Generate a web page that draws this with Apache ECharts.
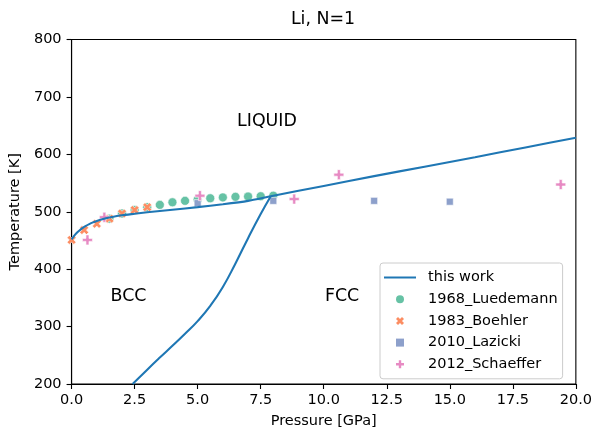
<!DOCTYPE html>
<html>
<head>
<meta charset="utf-8">
<script src="https://cdn.jsdelivr.net/npm/echarts@6.0.0/dist/echarts.min.js"></script>
<style>
  html, body { margin: 0; padding: 0; background: #fff; }
  #chartBox { width: 595px; height: 434px; }
</style>
</head>
<body>
<div id="chartBox"></div>
<script>
// melting line (bcc/fcc - liquid), pressure in GPa, temperature in K
var meltP = [0, 0.1, 0.2, 0.3, 0.4, 0.55, 0.7, 0.85, 1.0, 1.25, 1.5, 2, 2.5, 3, 4, 5, 6, 7, 7.9, 10, 12, 14, 16, 18, 20];
var meltT = [452, 458, 463, 467, 470.5, 475, 478.5, 481.5, 484, 487.5, 490, 494, 496.5, 499, 503.5, 508, 513, 519, 527, 545, 562, 578.5, 595, 612, 629];
// bcc - fcc boundary
var bfP = [2.42, 3.0, 3.5, 4.0, 4.5, 5.0, 5.5, 6.0, 6.5, 7.0, 7.5, 7.9];
var bfT = [200, 225, 246, 266.5, 287.5, 309.5, 336, 369, 410, 454, 496, 527];

var luedP = [1.5, 2.0, 2.5, 3.0, 3.5, 4.0, 4.5, 5.0, 5.5, 6.0, 6.5, 7.0, 7.5, 8.0];
var luedT = [488, 497, 503, 508, 512, 516.5, 519, 521, 523.5, 525, 526, 526.5, 527, 528];
var boehP = [0.0, 0.5, 1.0, 1.5, 2.0, 2.5, 3.0];
var boehT = [451, 468, 479, 488, 497, 503, 508];
var lazP = [5.0, 8.0, 12.0, 15.0];
var lazT = [515, 519, 519, 517.5];
var schP = [0.63, 1.3, 5.09, 8.83, 10.6, 19.4];
var schT = [451, 490.5, 528, 522, 564.6, 547.4];

var phaseNames = ['LIQUID', 'BCC', 'FCC'];
var phaseP = [7.75, 2.26, 10.73];
var phaseT = [657, 352, 352];

var legendNames = ['this work', '1968_Luedemann', '1983_Boehler', '2010_Lazicki', '2012_Schaeffer'];

function pairs(xs, ys) {
    return xs.map(function (x, i) { return [x, ys[i]]; });
}

var FONT = 'DejaVu Sans';
var xMarker = 'path://M2.5,0 L5,2.5 L7.5,0 L10,2.5 L7.5,5 L10,7.5 L7.5,10 L5,7.5 L2.5,10 L0,7.5 L2.5,5 L0,2.5 Z';
var plusMarker = 'path://M3.5,0 H6.5 V3.5 H10 V6.5 H6.5 V10 H3.5 V6.5 H0 V3.5 H3.5 Z';
var squareMarker = 'path://M0,0 H10 V10 H0 Z';
var lineIcon = 'path://M0,0 H32 V2 H0 Z';
var legendIcons = [lineIcon, 'circle', xMarker, squareMarker, plusMarker];

var myChart = echarts.init(document.getElementById('chartBox'));

var option = {
    animation: false,
    backgroundColor: '#fff',
    title: {
        text: 'Li, N=1',
        left: 323,
        textAlign: 'center',
        top: 11,
        padding: 0,
        textStyle: { fontFamily: FONT, fontSize: 17.4, fontWeight: 'normal', color: '#000' }
    },
    grid: {
        left: 70,
        right: 19,
        top: 39.5,
        bottom: 46.5,
        show: true,
        borderColor: '#000',
        borderWidth: 1.1,
        backgroundColor: 'transparent'
    },
    legend: {
        data: legendNames.map(function (n, i) { return { name: n, icon: legendIcons[i] }; }),
        orient: 'vertical',
        left: 380,
        top: 263,
        itemWidth: 32,
        itemHeight: 8,
        itemGap: 6.7,
        padding: [7, 5, 7, 4],
        selectedMode: false,
        symbolKeepAspect: true,
        itemStyle: { borderWidth: 0 },
        backgroundColor: 'rgba(255,255,255,0.8)',
        borderColor: '#cccccc',
        borderWidth: 1,
        borderRadius: 3,
        textStyle: { fontFamily: FONT, fontSize: 14.5, color: '#000', padding: [0, 0, 0, 7] }
    },
    xAxis: {
        type: 'value',
        min: 0,
        max: 20,
        interval: 2.5,
        name: 'Pressure [GPa]',
        nameLocation: 'middle',
        nameGap: 30,
        nameTextStyle: { fontFamily: FONT, fontSize: 14.5, color: '#000' },
        axisLine: { show: true, lineStyle: { color: '#000', width: 1.1 } },
        axisTick: { show: true, length: 5, lineStyle: { color: '#000', width: 1.1 } },
        axisLabel: {
            margin: 9,
            fontFamily: FONT,
            fontSize: 14.5,
            color: '#000',
            formatter: function (v) { return v.toFixed(1); }
        },
        splitLine: { show: false }
    },
    yAxis: {
        type: 'value',
        min: 200,
        max: 800,
        interval: 100,
        name: 'Temperature [K]',
        nameLocation: 'middle',
        nameGap: 44,
        nameTextStyle: { fontFamily: FONT, fontSize: 14.5, color: '#000' },
        axisLine: { show: true, lineStyle: { color: '#000', width: 1.1 } },
        axisTick: { show: true, length: 5, lineStyle: { color: '#000', width: 1.1 } },
        axisLabel: { margin: 10, fontFamily: FONT, fontSize: 14.5, color: '#000' },
        splitLine: { show: false }
    },
    series: [
        {
            name: 'this work',
            type: 'line',
            data: pairs(meltP, meltT),
            symbol: 'none',
            smooth: 0.2,
            z: 5,
            lineStyle: { color: '#1f77b4', width: 2.1 },
            itemStyle: { color: '#1f77b4' }
        },
        {
            name: 'this work',
            type: 'line',
            data: pairs(bfP, bfT),
            symbol: 'none',
            smooth: 0.5,
            z: 5,
            lineStyle: { color: '#1f77b4', width: 2.1 },
            itemStyle: { color: '#1f77b4' }
        },
        {
            name: '1968_Luedemann',
            type: 'scatter',
            data: pairs(luedP, luedT),
            symbol: 'circle',
            symbolSize: 9,
            z: 2,
            itemStyle: { color: '#66c2a5', borderColor: '#fff', borderWidth: 0.6, opacity: 1 }
        },
        {
            name: '1983_Boehler',
            type: 'scatter',
            data: pairs(boehP, boehT),
            symbol: xMarker,
            symbolSize: 9,
            z: 2,
            itemStyle: { color: '#fc8d62', borderColor: '#fff', borderWidth: 0.6, opacity: 1 }
        },
        {
            name: '2010_Lazicki',
            type: 'scatter',
            data: pairs(lazP, lazT),
            symbol: squareMarker,
            symbolSize: 7,
            z: 2,
            itemStyle: { color: '#8da0cb', borderColor: '#fff', borderWidth: 0.6, opacity: 1 }
        },
        {
            name: '2012_Schaeffer',
            type: 'scatter',
            data: pairs(schP, schT),
            symbol: plusMarker,
            symbolSize: 10,
            z: 2,
            itemStyle: { color: '#e78ac3', borderColor: '#fff', borderWidth: 0.6, opacity: 1 }
        },
        {
            name: 'phases',
            type: 'scatter',
            silent: true,
            symbolSize: 0,
            itemStyle: { opacity: 1 },
            data: phaseNames.map(function (n, i) { return { name: n, value: [phaseP[i], phaseT[i]] }; }),
            label: {
                show: true,
                position: 'inside',
                formatter: '{b}',
                fontFamily: FONT,
                fontSize: 17.4,
                color: '#000'
            }
        }
    ]
};

myChart.setOption(option);
</script>
</body>
</html>
